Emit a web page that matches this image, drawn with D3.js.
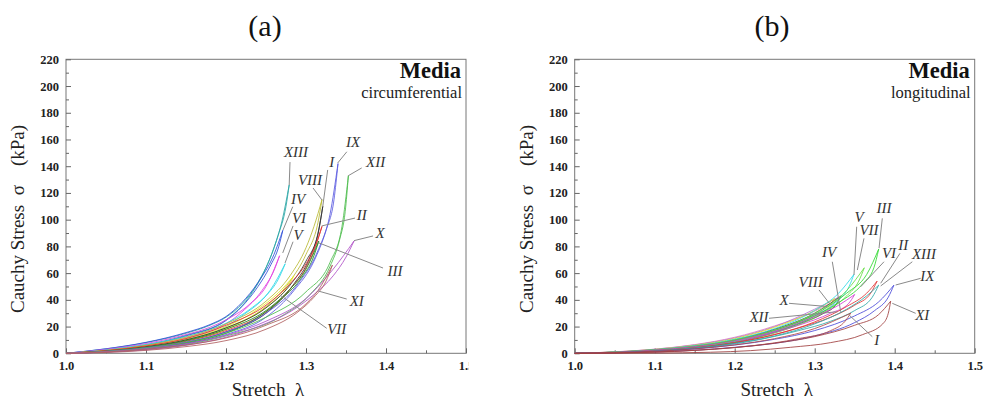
<!DOCTYPE html>
<html><head><meta charset="utf-8">
<script src="https://cdn.jsdelivr.net/npm/d3@7"></script>
<style>body{margin:0;background:#fff}svg{display:block}</style>
</head><body>
<svg id="c" width="984" height="401"></svg>
<script>
// ---------- DATA ----------
const xTicks = [1.0, 1.1, 1.2, 1.3, 1.4, 1.5];
const xMinor = [1.05, 1.15, 1.25, 1.35, 1.45];
const yTicks = [0, 20, 40, 60, 80, 100, 120, 140, 160, 180, 200, 220];
const yMinor = [10, 30, 50, 70, 90, 110, 130, 150, 170, 190, 210];
const panelTitles = ["(a)", "(b)"];
const panelNames = ["Media", "Media"];
const panelDirs = ["circumferential", "longitudinal"];
const xLabel = "Stretch  \u03bb";
const yLabel = "Cauchy Stress  \u03c3    (kPa)";

// panel (a) circumferential: specimen, colour, loading branch [stretch, stress], unloading branch
const circSpecimens = ["XIII","IV","VI","V","VIII","VII","I","II","III","IX","XII","X","XI"];
const circColors = ["#2aa6a6","#3050d8","#e040e0","#30d8e8","#b8b832","#e8e820","#333333","#e03030","#1e8a1e","#5a5ae0","#4cbc4c","#b050c8","#b06060"];
const circLoad = [
 [[1,0],[1.05,3.3],[1.1,8],[1.15,15],[1.18,21],[1.2,27],[1.22,37],[1.24,53],[1.26,79],[1.27,99],[1.279,126]],
 [[1,0],[1.05,3.4],[1.1,8.2],[1.15,15.5],[1.18,21.5],[1.2,27.5],[1.22,38],[1.24,53],[1.26,74],[1.271,92]],
 [[1,0],[1.05,3],[1.1,7.3],[1.15,14],[1.18,19.5],[1.2,25],[1.23,37],[1.25,50],[1.267,73]],
 [[1,0],[1.05,2.5],[1.1,6.5],[1.15,12.5],[1.18,17.5],[1.2,22.5],[1.23,33],[1.255,47],[1.274,67]],
 [[1,0],[1.05,2.2],[1.1,6],[1.15,12],[1.2,22],[1.25,39],[1.28,58],[1.3,79],[1.31,95],[1.32,115]],
 [[1,0],[1.05,2],[1.1,5.5],[1.15,11],[1.2,20],[1.24,33],[1.265,45],[1.285,58]],
 [[1,0],[1.05,1.8],[1.1,5],[1.15,10],[1.2,19],[1.25,34],[1.28,51],[1.3,69],[1.315,90],[1.321,110]],
 [[1,0],[1.05,2],[1.1,5.5],[1.15,11],[1.2,21],[1.25,36],[1.28,52],[1.3,67],[1.312,81],[1.32,95]],
 [[1,0],[1.05,1.6],[1.1,4.5],[1.15,9.5],[1.2,18],[1.25,32],[1.28,48],[1.3,63],[1.316,84]],
 [[1,0],[1.05,1.5],[1.1,4.2],[1.15,8.5],[1.2,16],[1.25,30],[1.29,52],[1.315,77],[1.33,104],[1.34,142]],
 [[1,0],[1.05,1.4],[1.1,4],[1.15,8],[1.2,15],[1.25,27],[1.3,46],[1.33,68],[1.345,95],[1.353,133]],
 [[1,0],[1.05,1.2],[1.1,3.5],[1.15,7.2],[1.2,13.5],[1.25,24],[1.3,41],[1.334,63],[1.36,84]],
 [[1,0],[1.05,1],[1.1,3],[1.15,6.2],[1.2,11.5],[1.25,21],[1.3,37],[1.315,47],[1.333,66]]
];
const circUnload = [
 [[1.279,126],[1.275,110],[1.265,88],[1.25,64],[1.23,43],[1.2,25],[1.15,13.5],[1.1,6.5],[1.05,2.5],[1,0]],
 [[1.271,92],[1.266,80],[1.255,65],[1.24,50],[1.22,35],[1.2,24.5],[1.15,13],[1.1,6],[1.05,2.5],[1,0]],
 [[1.267,73],[1.26,62],[1.245,47],[1.22,31],[1.2,22],[1.15,11.5],[1.1,5.5],[1.05,2],[1,0]],
 [[1.274,67],[1.265,55],[1.25,43],[1.22,28],[1.2,20],[1.15,10.5],[1.1,5],[1.05,1.8],[1,0]],
 [[1.32,115],[1.315,98],[1.3,74],[1.28,54],[1.25,35],[1.2,19],[1.15,10],[1.1,4.5],[1.05,1.5],[1,0]],
 [[1.285,58],[1.275,48],[1.26,39],[1.23,27],[1.2,18],[1.15,9],[1.1,4],[1.05,1.5],[1,0]],
 [[1.321,110],[1.316,92],[1.305,72],[1.285,52],[1.25,30],[1.2,16],[1.15,8],[1.1,3.5],[1.05,1.2],[1,0]],
 [[1.32,95],[1.312,80],[1.3,64],[1.28,48],[1.25,31],[1.2,17],[1.15,9],[1.1,4],[1.05,1.4],[1,0]],
 [[1.316,84],[1.308,70],[1.295,57],[1.27,41],[1.24,27],[1.2,15],[1.15,7.5],[1.1,3.5],[1.05,1],[1,0]],
 [[1.34,142],[1.335,115],[1.325,92],[1.31,69],[1.285,47],[1.25,27],[1.2,14],[1.15,7],[1.1,3.2],[1.05,1],[1,0]],
 [[1.353,133],[1.349,106],[1.342,85],[1.33,65],[1.305,44],[1.27,28],[1.2,13],[1.15,6.5],[1.1,3],[1.05,1],[1,0]],
 [[1.36,84],[1.35,72],[1.334,58],[1.31,44],[1.28,31],[1.24,20],[1.2,12],[1.15,6],[1.1,2.5],[1.05,0.8],[1,0]],
 [[1.333,66],[1.325,54],[1.31,42],[1.29,31],[1.25,18],[1.2,9.5],[1.15,5],[1.1,2.2],[1.05,0.6],[1,0]]
];
// panel (a) labels: text anchor [stretch, stress], leader from, leader to
const circLabels = ["XIII","IX","XII","I","VIII","IV","VI","V","II","X","III","XI","VII"];
const circLabelPos = [[1.2875,146.9],[1.3588,154.4],[1.3871,139.4],[1.3321,139.4],[1.305,125.9],[1.29,111.7],[1.2913,97.7],[1.29,84.8],[1.3696,99.7],[1.3925,86.3],[1.4113,57.8],[1.3634,35.4],[1.3384,14.2]];
const circLeadFrom = [[1.28,143.1],[1.351,150.8],[1.3696,138.7],[1.3271,137.2],[1.3088,123.7],[1.2834,109.7],[1.2838,95.3],[1.2838,83.5],[1.3613,101.2],[1.3838,87.8],[1.3963,63.8],[1.3509,40.6],[1.3259,18.7]];
const circLeadTo = [[1.279,125.9],[1.3396,142.4],[1.3529,132.9],[1.3209,109.7],[1.32,114.7],[1.2713,92.3],[1.2709,75.1],[1.2738,67.6],[1.3196,95.3],[1.36,84.3],[1.3154,82.8],[1.3154,46.6],[1.2675,43.6]];

// panel (b) longitudinal
const longSpecimens = ["XII","X","VIII","IV","V","VII","III","VI","II","XIII","IX","I","XI"];
const longColors = ["#e080c0","#b070d8","#e0e020","#404040","#30d8e8","#66dd44","#30d830","#d040d0","#e03434","#30a8a8","#4a4ad8","#b04848","#a04040"];
const longLoad = [
 [[1,0],[1.05,1.1],[1.1,3.1],[1.15,6.5],[1.2,12],[1.25,20.5],[1.3,31.5],[1.318,37]],
 [[1,0],[1.05,1],[1.1,3],[1.15,6.3],[1.2,11.5],[1.25,20],[1.3,33],[1.33,42]],
 [[1,0],[1.05,1],[1.1,2.9],[1.15,6],[1.2,11],[1.25,19.5],[1.3,32],[1.325,41]],
 [[1,0],[1.05,0.9],[1.1,2.6],[1.15,5.4],[1.2,10],[1.25,18],[1.3,30],[1.333,43]],
 [[1,0],[1.05,0.9],[1.1,2.7],[1.15,5.7],[1.2,10.5],[1.25,18.5],[1.3,32],[1.33,45],[1.349,59]],
 [[1,0],[1.05,0.8],[1.1,2.5],[1.15,5.3],[1.2,10],[1.25,17.5],[1.3,30],[1.34,47],[1.362,64]],
 [[1,0],[1.05,0.8],[1.1,2.4],[1.15,5.1],[1.2,9.5],[1.25,17],[1.3,29],[1.34,45],[1.365,59],[1.38,78]],
 [[1,0],[1.05,0.8],[1.1,2.4],[1.15,5],[1.2,9.3],[1.25,16.5],[1.3,27.5],[1.33,36],[1.35,44]],
 [[1,0],[1.05,0.6],[1.1,1.9],[1.15,4.2],[1.2,8],[1.25,14],[1.3,23.5],[1.34,35],[1.365,45],[1.378,54]],
 [[1,0],[1.05,0.6],[1.1,1.8],[1.15,4],[1.2,7.5],[1.25,13],[1.3,22],[1.34,33],[1.365,43],[1.38,51]],
 [[1,0],[1.05,0.5],[1.1,1.5],[1.15,3.3],[1.2,6.2],[1.25,10.5],[1.3,17],[1.35,28],[1.38,38.5],[1.399,51]],
 [[1,0],[1.05,0.5],[1.1,1.5],[1.15,3.3],[1.2,6.3],[1.25,11],[1.3,18.5],[1.345,30]],
 [[1,0],[1.05,0.3],[1.1,1],[1.15,2.2],[1.2,4.3],[1.25,7.5],[1.3,12.5],[1.35,21],[1.38,29],[1.395,39]]
];
const longUnload = [
 [[1.318,37],[1.31,32],[1.29,26],[1.25,18],[1.2,10],[1.15,5.4],[1.1,2.5],[1.05,0.8],[1,0]],
 [[1.33,42],[1.322,36],[1.3,29],[1.26,19],[1.2,10],[1.15,5.2],[1.1,2.4],[1.05,0.8],[1,0]],
 [[1.325,41],[1.318,35],[1.3,28],[1.26,18],[1.2,9.5],[1.15,5],[1.1,2.3],[1.05,0.7],[1,0]],
 [[1.333,43],[1.326,36],[1.31,29.5],[1.28,22],[1.24,14],[1.2,8.5],[1.15,4.3],[1.1,2],[1.05,0.6],[1,0]],
 [[1.349,59],[1.343,50],[1.33,40],[1.3,28],[1.25,16],[1.2,9],[1.15,4.8],[1.1,2.2],[1.05,0.7],[1,0]],
 [[1.362,64],[1.355,54],[1.34,43],[1.31,30],[1.26,17],[1.2,8.5],[1.15,4.5],[1.1,2],[1.05,0.6],[1,0]],
 [[1.38,78],[1.374,64],[1.36,52],[1.33,38],[1.29,25],[1.24,14],[1.2,8],[1.15,4.2],[1.1,1.8],[1.05,0.5],[1,0]],
 [[1.35,44],[1.342,37],[1.32,30],[1.28,21],[1.23,12.5],[1.2,8],[1.15,4],[1.1,1.8],[1.05,0.5],[1,0]],
 [[1.378,54],[1.37,45],[1.35,36],[1.32,27],[1.28,19],[1.22,10],[1.15,3.8],[1.1,1.5],[1.05,0.4],[1,0]],
 [[1.38,51],[1.372,42],[1.35,32],[1.32,24],[1.28,17],[1.22,9],[1.15,3.5],[1.1,1.4],[1.05,0.4],[1,0]],
 [[1.399,51],[1.392,42],[1.375,32],[1.35,23],[1.3,13],[1.25,7.5],[1.2,4.5],[1.15,2.3],[1.1,1],[1.05,0.3],[1,0]],
 [[1.345,30],[1.338,24],[1.32,17],[1.28,11],[1.22,5.5],[1.15,2.2],[1.1,0.8],[1,0]],
 [[1.395,39],[1.392,30],[1.385,22],[1.36,14],[1.32,8],[1.27,4.5],[1.22,2],[1.17,0.8],[1.1,0.2],[1,0]]
];
const longLabels = ["V","VII","III","IV","VI","II","XIII","IX","XI","I","VIII","X","XII"];
const longLabelPos = [[1.3554,98.5],[1.3679,88.5],[1.3866,104.8],[1.3179,72.3],[1.3929,71.1],[1.4108,77.3],[1.4366,70.3],[1.4408,54.3],[1.4345,24.9],[1.3775,6.2],[1.295,49.8],[1.2616,36.1],[1.2304,23.6]];
const longLeadFrom = [[1.3525,94.7],[1.3616,86],[1.3845,101],[1.322,68.5],[1.3866,68.5],[1.4066,74.8],[1.422,68.5],[1.4325,56.1],[1.4262,29.9],[1.372,12.4],[1.3054,47.4],[1.2679,37.4],[1.2429,26.2]];
const longLeadTo = [[1.3491,58.6],[1.3533,62.3],[1.3804,78.6],[1.3325,31.1],[1.3575,49.8],[1.3825,52.4],[1.3825,50.4],[1.4012,51.1],[1.397,37.4],[1.3429,28.7],[1.32,36.1],[1.3158,35.0],[1.3283,31.1]];

// ---------- DRAW ----------
const svg = d3.select("#c");
const SERIF = "'Liberation Serif','Times New Roman',serif";

const panels = [
  {left: 66, cx: 265, clipRight: 468.5, specs: circSpecimens, colors: circColors, load: circLoad, unload: circUnload,
   labels: circLabels, lpos: circLabelPos, lfrom: circLeadFrom, lto: circLeadTo},
  {left: 574.7, cx: 772, clipRight: 984, specs: longSpecimens, colors: longColors, load: longLoad, unload: longUnload,
   labels: longLabels, lpos: longLabelPos, lfrom: longLeadFrom, lto: longLeadTo}
];
const plotTop = 59.3, plotBottom = 353.3, pw = 400;

panels.forEach((p, i) => {
  const clipId = "clip" + i;
  svg.append("clipPath").attr("id", clipId).append("rect")
    .attr("x", p.left - 70).attr("y", 0).attr("width", p.clipRight - (p.left - 70)).attr("height", 401);
  const g = svg.append("g").attr("clip-path", `url(#${clipId})`).style("font-family", SERIF);
  const x = d3.scaleLinear().domain([1.0, 1.5]).range([p.left, p.left + pw]);
  const y = d3.scaleLinear().domain([0, 220]).range([plotBottom, plotTop]);

  g.append("text").attr("x", p.cx).attr("y", 36).attr("text-anchor", "middle")
    .style("font-family", SERIF).attr("font-size", 30).attr("fill", "#111").text(panelTitles[i]);

  g.append("rect").attr("x", x(1.0)).attr("y", plotTop).attr("width", pw).attr("height", plotBottom - plotTop)
    .attr("fill", "none").attr("stroke", "#777").attr("stroke-width", 1);

  const xa = g.append("g").attr("transform", `translate(0,${plotBottom})`)
    .call(d3.axisBottom(x).tickValues(xTicks).tickSize(-5).tickPadding(8).tickFormat(d3.format(".1f")));
  const xm = g.append("g").attr("transform", `translate(0,${plotBottom})`)
    .call(d3.axisBottom(x).tickValues(xMinor).tickSize(-3).tickFormat(""));
  const ya = g.append("g").attr("transform", `translate(${x(1.0)},0)`)
    .call(d3.axisLeft(y).tickValues(yTicks).tickSize(-5).tickPadding(7).tickFormat(d3.format("d")));
  const ym = g.append("g").attr("transform", `translate(${x(1.0)},0)`)
    .call(d3.axisLeft(y).tickValues(yMinor).tickSize(-3).tickFormat(""));
  [xa, xm, ya, ym].forEach(a => {
    a.select(".domain").remove();
    a.selectAll("line").attr("stroke", "#666");
    a.selectAll("text").style("font-family", SERIF).attr("font-weight", "bold")
      .attr("font-size", 12.5).attr("fill", "#222");
  });

  g.append("text").attr("x", x(1.25) + 2).attr("y", 396).attr("text-anchor", "middle")
    .style("font-family", SERIF).attr("font-size", 19).attr("fill", "#222")
    .style("white-space", "pre").text(xLabel);
  g.append("text").attr("transform", `translate(${p.left - 42},219) rotate(-90)`).attr("text-anchor", "middle")
    .style("font-family", SERIF).attr("font-size", 19).attr("fill", "#222")
    .style("white-space", "pre").text(yLabel);

  g.append("text").attr("x", x(1.5) - 5).attr("y", 77.5).attr("text-anchor", "end")
    .style("font-family", SERIF).attr("font-weight", "bold").attr("font-size", 22.5).attr("fill", "#111").text(panelNames[i]);
  g.append("text").attr("x", x(1.5) - 4).attr("y", 98).attr("text-anchor", "end")
    .style("font-family", SERIF).attr("font-size", 16.5).attr("fill", "#222").text(panelDirs[i]);

  const line = d3.line().x(d => x(d[0])).y(d => y(d[1])).curve(d3.curveMonotoneX);
  const sorted = arr => arr.slice().sort((a, b) => a[0] - b[0]);
  const cg = g.append("g").attr("fill", "none").attr("stroke-width", 1).attr("stroke-opacity", 0.85);
  p.specs.forEach((s, k) => {
    cg.append("path").attr("d", line(sorted(p.load[k]))).attr("stroke", p.colors[k]);
    cg.append("path").attr("d", line(sorted(p.unload[k]))).attr("stroke", p.colors[k]);
  });

  const lg = g.append("g");
  p.labels.forEach((t, k) => {
    lg.append("line").attr("x1", x(p.lfrom[k][0])).attr("y1", y(p.lfrom[k][1]))
      .attr("x2", x(p.lto[k][0])).attr("y2", y(p.lto[k][1])).attr("stroke", "#8a8a8a").attr("stroke-width", 1);
    lg.append("text").attr("x", x(p.lpos[k][0])).attr("y", y(p.lpos[k][1])).attr("text-anchor", "middle")
      .style("font-family", SERIF).attr("font-style", "italic").attr("font-size", 15).attr("fill", "#333").text(t);
  });
});
</script>
</body></html>
